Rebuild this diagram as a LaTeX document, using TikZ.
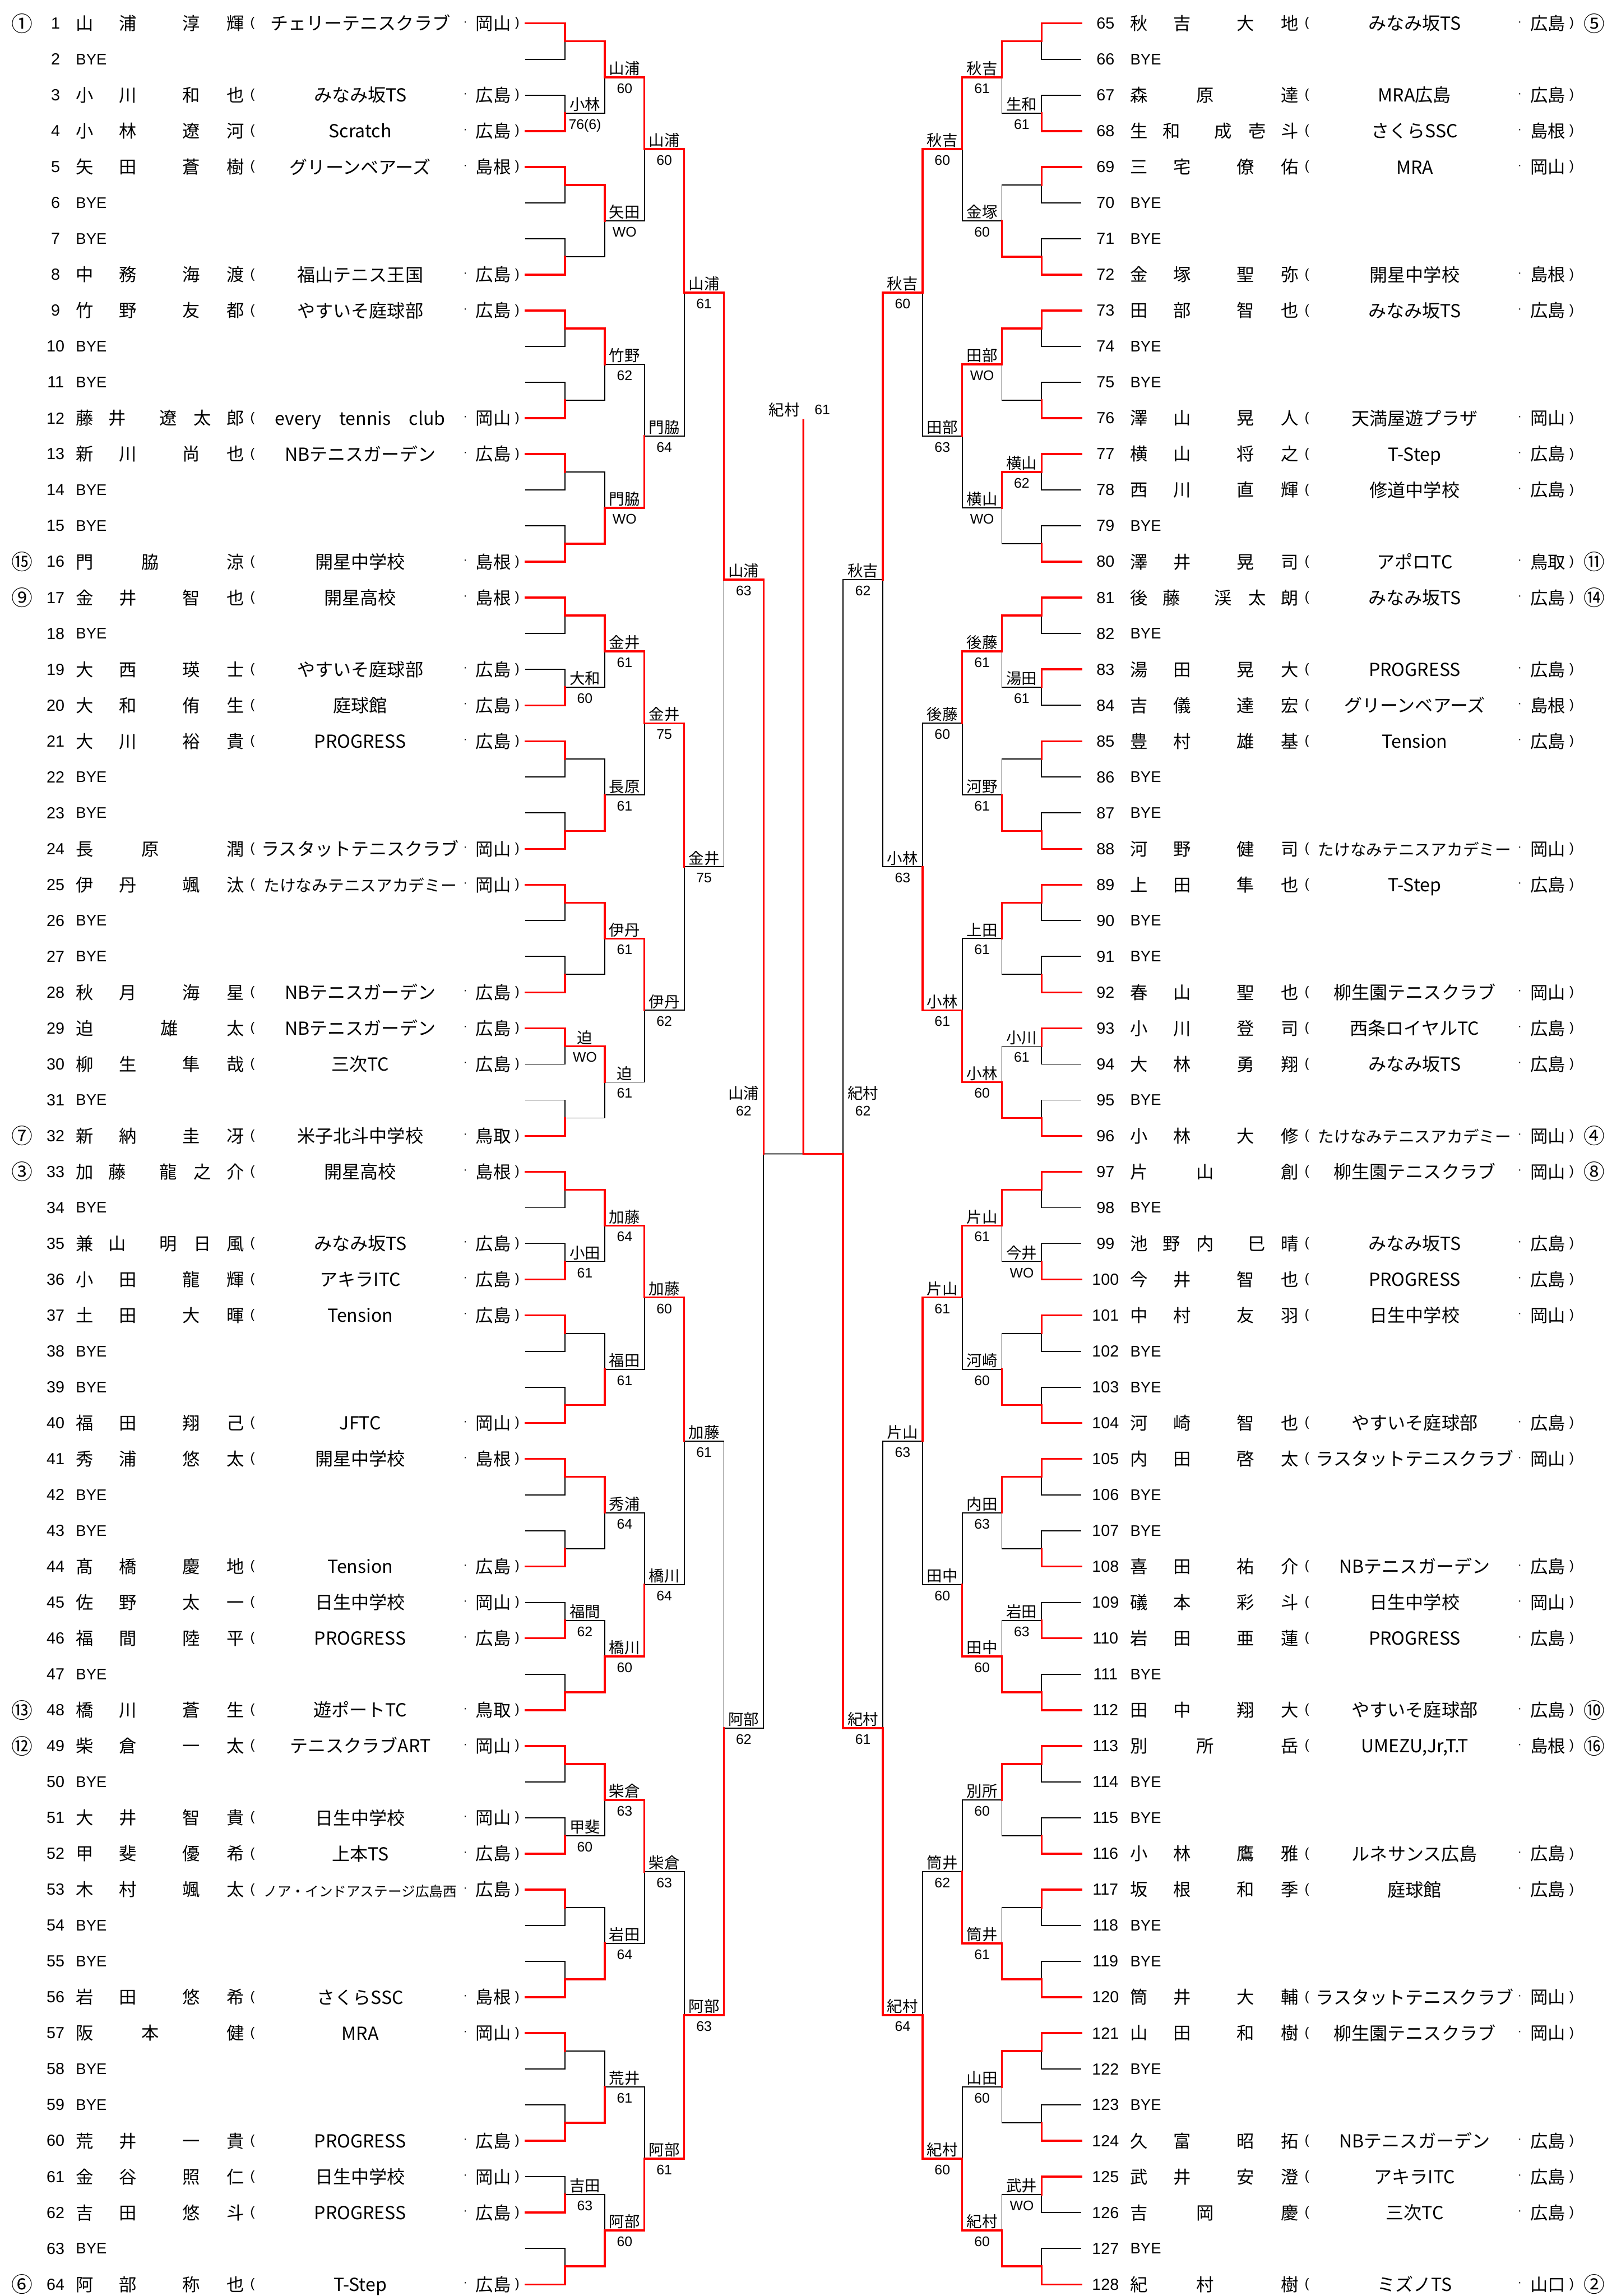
\documentclass[tikz,border=0pt]{standalone}
\usepackage{fontspec}
\setmainfont{Liberation Sans}
\newfontfamily\jp{Noto Sans CJK JP}
\definecolor{winred}{RGB}{255,0,0}

\newcommand\fs[1]{\fontsize{#1}{#1}\selectfont}
\newcommand\nmc[2]{\rlap{\hspace*{#1pt}\makebox[0pt]{#2}}}
\newcommand\nmA[4]{\nmc{0}{#1}\nmc{29.5}{#2}\nmc{72.8}{#3}\nmc{103}{#4}}
\newcommand\nmB[3]{\nmc{0}{#1}\nmc{45}{#2}\nmc{103}{#3}}
\newcommand\nmC[3]{\nmc{0}{#1}\nmc{57.8}{#2}\nmc{103}{#3}}
\newcommand\nmD[5]{\nmc{0}{#1}\nmc{22.2}{#2}\nmc{57.2}{#3}\nmc{80.6}{#4}\nmc{103}{#5}}
\newcommand\nmE[5]{\nmc{0}{#1}\nmc{22.2}{#2}\nmc{45}{#3}\nmc{80.5}{#4}\nmc{103}{#5}}
\newcommand\clubfit[1]{\sbox0{#1}\ifdim\wd0>140pt\resizebox{132pt}{!}{#1}\else#1\fi}

\newcommand\prow[7]{%
  \pgfmathsetmacro\yy{16+(#4-1)*24.524}%
  \node[num] (no#3) at (#2,\yy) {#3};
  \node[nmtxt] (nm#3) at (#1+57.2,\yy) {#5};
  \node[paren] (lp#3) at (#1+172.6,\yy) {(};
  \node[clubtxt] (cl#3) at (#1+246.2,\yy) {\clubfit{#6}};
  \node[midot] (dt#3) at (#1+318,\yy) {·};
  \node[preftxt] (pf#3) at (#1+337.2,\yy) {#7};
  \node[paren] (rp#3) at (#1+353.5,\yy) {)};
}
\newcommand\pbye[4]{%
  \pgfmathsetmacro\yy{16+(#4-1)*24.524}%
  \node[num] (no#3) at (#2,\yy) {#3};
  \node[byetxt] (by#3) at (#1+51.7,\yy) {BYE};
}

\begin{document}
\begin{tikzpicture}[x=1pt, y=-1pt,
  losepath/.style={line width=.7pt},
  winpath/.style={draw=winred, line width=1.3pt, line cap=rect},
  num/.style={inner sep=0pt, font=\fs{11}},
  byetxt/.style={anchor=west, inner sep=0pt, font=\fs{10.5}},
  nmtxt/.style={anchor=west, inner sep=0pt, font=\jp\fs{12}, text height=10.56pt, text depth=1.44pt},
  clubtxt/.style={inner sep=0pt, font=\jp\fs{12.3}, text height=10.8pt, text depth=1.5pt},
  preftxt/.style={inner sep=0pt, font=\jp\fs{12}, text height=10.56pt, text depth=1.44pt},
  paren/.style={inner sep=0pt, font=\fs{9}},
  midot/.style={inner sep=0pt, font=\fs{8}},
  seed/.style={inner sep=0pt, font=\jp\fs{14.5}, text height=12.76pt, text depth=1.74pt},
  wname/.style={inner sep=0pt, font=\jp\fs{10.5}, text height=9.24pt, text depth=1.26pt},
  wscore/.style={inner sep=0pt, font=\fs{9.5}, text height=6.8pt, text depth=0pt}]
\useasboundingbox (0,0) rectangle (1101.33,1569);

% bracket points
\foreach \L in {0,...,6} {
  \pgfmathtruncatemacro\n{64/2^\L}
  \foreach \j in {1,...,\n} {
    \pgfmathsetmacro\yy{16+((\j-0.5)*2^\L-0.5)*24.524}
    \coordinate (l\L-\j) at ({359+27.14*\L},\yy);
    \coordinate (r\L-\j) at ({739-27.14*\L},\yy);
  }
}
\coordinate (fin) at (549,788.5);
\coordinate (top) at (549,287);

\foreach \L in {0,...,5} {
  \pgfmathtruncatemacro\n{64/2^\L}
  \pgfmathtruncatemacro\M{\L+1}
  \foreach \j in {1,...,\n} {
    \pgfmathtruncatemacro\p{ceil(\j/2)}
    \draw[losepath] (l\L-\j) -| (l\M-\p);
    \draw[losepath] (r\L-\j) -| (r\M-\p);
  }
}
\draw[losepath] (l6-1) -- (fin);

\foreach \L/\lst in {0/{1,4,5,8,9,12,13,16,17,20,21,24,25,28,29,32,33,36,37,40,41,44,46,48,49,52,53,56,57,60,62,64},
    1/{1,3,5,8,9,12,13,15,17,20,21,24,25,28,30,32}, 2/{1,4,5,7,9,12,13,16}, 3/{1,3,5,8}, 4/{1,4}, 5/{1}} {
  \pgfmathtruncatemacro\M{\L+1}
  \foreach \j in \lst {
    \pgfmathtruncatemacro\p{ceil(\j/2)}
    \draw[winpath] (l\L-\j) -| (l\M-\p);
  }
}
\foreach \L/\lst in {0/{1,4,5,8,9,12,13,16,17,19,21,24,25,28,29,32,33,36,37,40,41,44,46,48,49,52,53,56,57,60,61,64},
    1/{1,4,5,7,9,12,13,16,17,20,21,24,25,28,29,32}, 2/{1,3,5,8,9,12,14,16}, 3/{1,4,5,8}, 4/{1,4}, 5/{2}} {
  \pgfmathtruncatemacro\M{\L+1}
  \foreach \j in \lst {
    \pgfmathtruncatemacro\p{ceil(\j/2)}
    \draw[winpath] (r\L-\j) -| (r\M-\p);
  }
}
\draw[winpath] (r6-1) -- (fin) -- (top);

% match results
\foreach \L/\lst in {1/{2/小林/76(6),10/大和/60,15/迫/WO,18/小田/61,23/福間/62,26/甲斐/60,31/吉田/63},
    2/{1/山浦/60,2/矢田/WO,3/竹野/62,4/門脇/WO,5/金井/61,6/長原/61,7/伊丹/61,8/迫/61,9/加藤/64,10/福田/61,11/秀浦/64,12/橋川/60,13/柴倉/63,14/岩田/64,15/荒井/61,16/阿部/60},
    3/{1/山浦/60,2/門脇/64,3/金井/75,4/伊丹/62,5/加藤/60,6/橋川/64,7/柴倉/63,8/阿部/61},
    4/{1/山浦/61,2/金井/75,3/加藤/61,4/阿部/63},
    5/{1/山浦/63,2/阿部/62}} {
  \foreach \j/\w/\s in \lst {
    \node[wname, xshift=13.57pt, yshift=6pt] (lw\L-\j) at (l\L-\j) {\w};
    \node[wscore, xshift=13.57pt, yshift=-7.5pt] (ls\L-\j) at (l\L-\j) {\s};
  }
}
\foreach \L/\lst in {1/{2/生和/61,7/横山/62,10/湯田/61,15/小川/61,18/今井/WO,23/岩田/63,31/武井/WO},
    2/{1/秋吉/61,2/金塚/60,3/田部/WO,4/横山/WO,5/後藤/61,6/河野/61,7/上田/61,8/小林/60,9/片山/61,10/河崎/60,11/内田/63,12/田中/60,13/別所/60,14/筒井/61,15/山田/60,16/紀村/60},
    3/{1/秋吉/60,2/田部/63,3/後藤/60,4/小林/61,5/片山/61,6/田中/60,7/筒井/62,8/紀村/60},
    4/{1/秋吉/60,2/小林/63,3/片山/63,4/紀村/64},
    5/{1/秋吉/62,2/紀村/61}} {
  \foreach \j/\w/\s in \lst {
    \node[wname, xshift=-13.57pt, yshift=6pt] (rw\L-\j) at (r\L-\j) {\w};
    \node[wscore, xshift=-13.57pt, yshift=-7.5pt] (rs\L-\j) at (r\L-\j) {\s};
  }
}
\node[wname, xshift=-13.57pt, yshift=41.5pt] (lw6) at (l6-1) {山浦};
\node[wscore, xshift=-13.57pt, yshift=29.5pt] (ls6) at (l6-1) {62};
\node[wname, xshift=13.57pt, yshift=41.5pt] (rw6) at (r6-1) {紀村};
\node[wscore, xshift=13.57pt, yshift=29.5pt] (rs6) at (r6-1) {62};
\node[wname, xshift=-13pt, yshift=7pt] (chn) at (top) {紀村};
\node[wscore, xshift=13pt, yshift=7pt] (chs) at (top) {61};

% players
\foreach \i in {2,6,7,10,11,14,15,18,22,23,26,27,31,34,38,39,42,43,47,50,54,55,58,59,63}
  {\pbye{0}{38}{\i}{\i}}
\foreach \i in {66,70,71,74,75,79,82,86,87,90,91,95,98,102,103,106,107,111,114,115,118,119,122,123,127}
  {\pbye{720.6}{755.5}{\i}{\i-64}}

\foreach \i/\nm/\cl/\pf in {
  1/{\nmA{山}{浦}{淳}{輝}}/チェリーテニスクラブ/岡山,
  3/{\nmA{小}{川}{和}{也}}/みなみ坂TS/広島,
  4/{\nmA{小}{林}{遼}{河}}/Scratch/広島,
  5/{\nmA{矢}{田}{蒼}{樹}}/グリーンベアーズ/島根,
  8/{\nmA{中}{務}{海}{渡}}/福山テニス王国/広島,
  9/{\nmA{竹}{野}{友}{都}}/やすいそ庭球部/広島,
  12/{\nmD{藤}{井}{遼}{太}{郎}}/{every　tennis　club}/岡山,
  13/{\nmA{新}{川}{尚}{也}}/NBテニスガーデン/広島,
  16/{\nmB{門}{脇}{涼}}/開星中学校/島根,
  17/{\nmA{金}{井}{智}{也}}/開星高校/島根,
  19/{\nmA{大}{西}{瑛}{士}}/やすいそ庭球部/広島,
  20/{\nmA{大}{和}{侑}{生}}/庭球館/広島,
  21/{\nmA{大}{川}{裕}{貴}}/PROGRESS/広島,
  24/{\nmB{長}{原}{潤}}/ラスタットテニスクラブ/岡山,
  25/{\nmA{伊}{丹}{颯}{汰}}/たけなみテニスアカデミー/岡山,
  28/{\nmA{秋}{月}{海}{星}}/NBテニスガーデン/広島,
  29/{\nmC{迫}{雄}{太}}/NBテニスガーデン/広島,
  30/{\nmA{柳}{生}{隼}{哉}}/三次TC/広島,
  32/{\nmA{新}{納}{圭}{冴}}/米子北斗中学校/鳥取,
  33/{\nmD{加}{藤}{龍}{之}{介}}/開星高校/島根,
  35/{\nmD{兼}{山}{明}{日}{風}}/みなみ坂TS/広島,
  36/{\nmA{小}{田}{龍}{輝}}/アキラITC/広島,
  37/{\nmA{土}{田}{大}{暉}}/Tension/広島,
  40/{\nmA{福}{田}{翔}{己}}/JFTC/岡山,
  41/{\nmA{秀}{浦}{悠}{太}}/開星中学校/島根,
  44/{\nmA{髙}{橋}{慶}{地}}/Tension/広島,
  45/{\nmA{佐}{野}{太}{一}}/日生中学校/岡山,
  46/{\nmA{福}{間}{陸}{平}}/PROGRESS/広島,
  48/{\nmA{橋}{川}{蒼}{生}}/遊ポートTC/鳥取,
  49/{\nmA{柴}{倉}{一}{太}}/テニスクラブART/岡山,
  51/{\nmA{大}{井}{智}{貴}}/日生中学校/岡山,
  52/{\nmA{甲}{斐}{優}{希}}/上本TS/広島,
  53/{\nmA{木}{村}{颯}{太}}/ノア・インドアステージ広島西/広島,
  56/{\nmA{岩}{田}{悠}{希}}/さくらSSC/島根,
  57/{\nmB{阪}{本}{健}}/MRA/岡山,
  60/{\nmA{荒}{井}{一}{貴}}/PROGRESS/広島,
  61/{\nmA{金}{谷}{照}{仁}}/日生中学校/岡山,
  62/{\nmA{吉}{田}{悠}{斗}}/PROGRESS/広島,
  64/{\nmA{阿}{部}{称}{也}}/T-Step/広島}
  {\prow{0}{38}{\i}{\i}{\nm}{\cl}{\pf}}

\foreach \i/\nm/\cl/\pf in {
  65/{\nmA{秋}{吉}{大}{地}}/みなみ坂TS/広島,
  67/{\nmB{森}{原}{達}}/MRA広島/広島,
  68/{\nmD{生}{和}{成}{壱}{斗}}/さくらSSC/島根,
  69/{\nmA{三}{宅}{僚}{佑}}/MRA/岡山,
  72/{\nmA{金}{塚}{聖}{弥}}/開星中学校/島根,
  73/{\nmA{田}{部}{智}{也}}/みなみ坂TS/広島,
  76/{\nmA{澤}{山}{晃}{人}}/天満屋遊プラザ/岡山,
  77/{\nmA{横}{山}{将}{之}}/T-Step/広島,
  78/{\nmA{西}{川}{直}{輝}}/修道中学校/広島,
  80/{\nmA{澤}{井}{晃}{司}}/アポロTC/鳥取,
  81/{\nmD{後}{藤}{渓}{太}{朗}}/みなみ坂TS/広島,
  83/{\nmA{湯}{田}{晃}{大}}/PROGRESS/広島,
  84/{\nmA{吉}{儀}{達}{宏}}/グリーンベアーズ/島根,
  85/{\nmA{豊}{村}{雄}{基}}/Tension/広島,
  88/{\nmA{河}{野}{健}{司}}/たけなみテニスアカデミー/岡山,
  89/{\nmA{上}{田}{隼}{也}}/T-Step/広島,
  92/{\nmA{春}{山}{聖}{也}}/柳生園テニスクラブ/岡山,
  93/{\nmA{小}{川}{登}{司}}/西条ロイヤルTC/広島,
  94/{\nmA{大}{林}{勇}{翔}}/みなみ坂TS/広島,
  96/{\nmA{小}{林}{大}{修}}/たけなみテニスアカデミー/岡山,
  97/{\nmB{片}{山}{創}}/柳生園テニスクラブ/岡山,
  99/{\nmE{池}{野}{内}{巳}{晴}}/みなみ坂TS/広島,
  100/{\nmA{今}{井}{智}{也}}/PROGRESS/広島,
  101/{\nmA{中}{村}{友}{羽}}/日生中学校/岡山,
  104/{\nmA{河}{崎}{智}{也}}/やすいそ庭球部/広島,
  105/{\nmA{内}{田}{啓}{太}}/ラスタットテニスクラブ/岡山,
  108/{\nmA{喜}{田}{祐}{介}}/NBテニスガーデン/広島,
  109/{\nmA{礒}{本}{彩}{斗}}/日生中学校/岡山,
  110/{\nmA{岩}{田}{亜}{蓮}}/PROGRESS/広島,
  112/{\nmA{田}{中}{翔}{大}}/やすいそ庭球部/広島,
  113/{\nmB{別}{所}{岳}}/{UMEZU,Jr,T.T}/島根,
  116/{\nmA{小}{林}{鷹}{雅}}/ルネサンス広島/広島,
  117/{\nmA{坂}{根}{和}{季}}/庭球館/広島,
  120/{\nmA{筒}{井}{大}{輔}}/ラスタットテニスクラブ/岡山,
  121/{\nmA{山}{田}{和}{樹}}/柳生園テニスクラブ/岡山,
  124/{\nmA{久}{富}{昭}{拓}}/NBテニスガーデン/広島,
  125/{\nmA{武}{井}{安}{澄}}/アキラITC/広島,
  126/{\nmB{吉}{岡}{慶}}/三次TC/広島,
  128/{\nmB{紀}{村}{樹}}/ミズノTS/山口}
  {\prow{720.6}{755.5}{\i}{\i-64}{\nm}{\cl}{\pf}}

% seeds
\foreach \i/\c in {1/①,16/⑮,17/⑨,32/⑦,33/③,48/⑬,49/⑫,64/⑥}
  \node[seed] (sd\i) at (15,{16+(\i-1)*24.524}) {\c};
\foreach \i/\c in {65/⑤,80/⑪,81/⑭,96/④,97/⑧,112/⑩,113/⑯,128/②}
  \node[seed] (sd\i) at (1089.6,{16+(\i-65)*24.524}) {\c};
\end{tikzpicture}
\end{document}
